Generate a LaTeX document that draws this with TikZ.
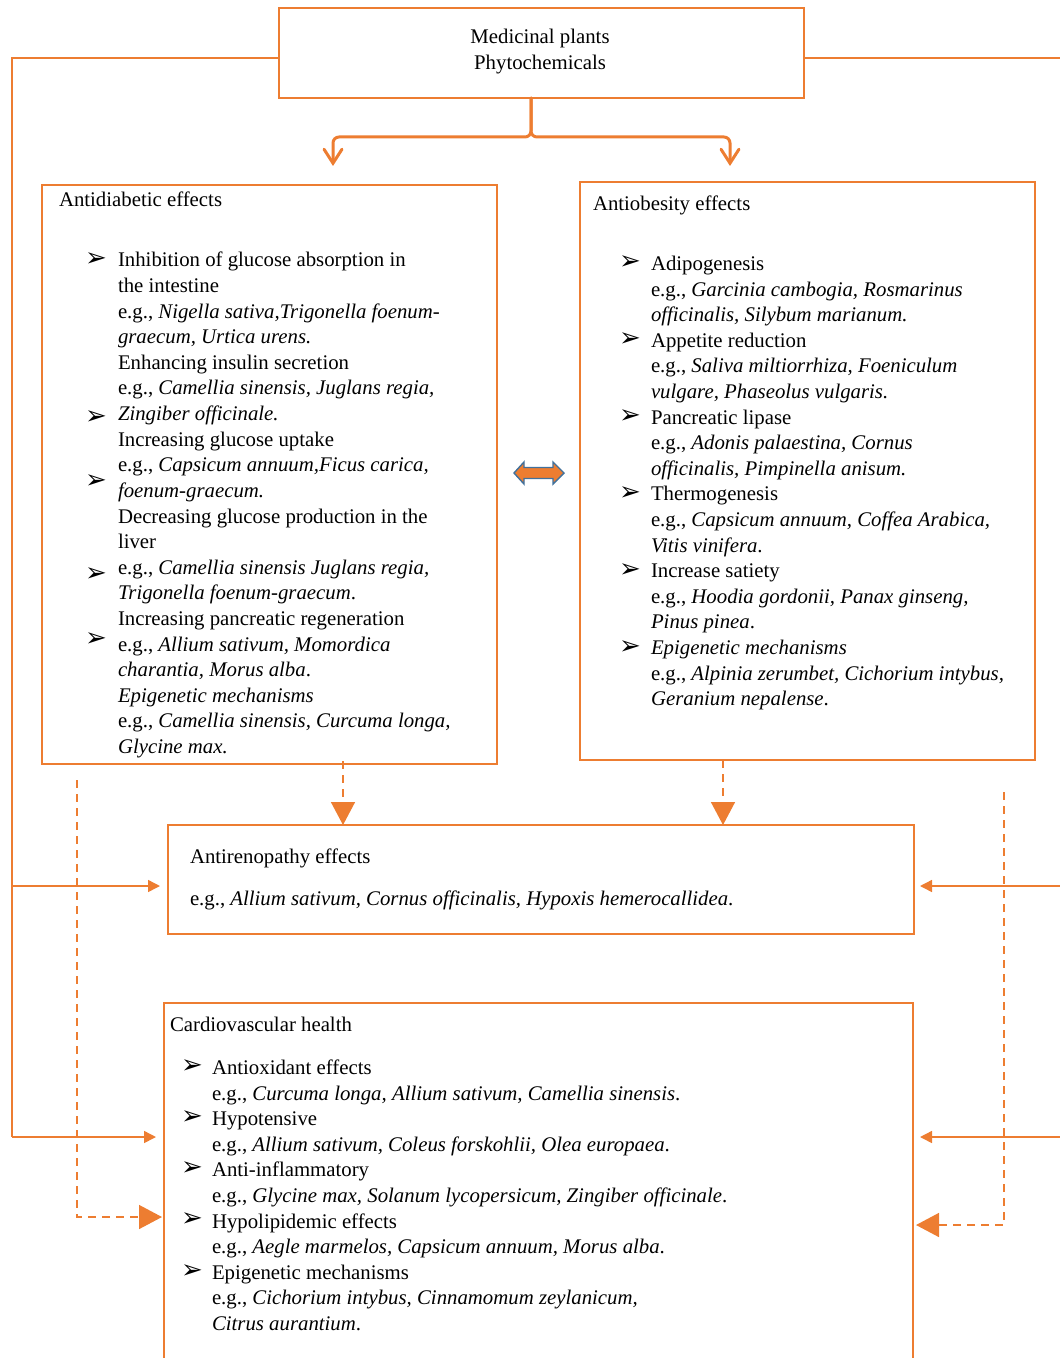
\documentclass[tikz,border=0pt]{standalone}
\usepackage{fontspec}
\setmainfont{Liberation Serif}
\newfontfamily\dejavu{DejaVu Sans}
\usetikzlibrary{arrows.meta,fit}
\definecolor{org}{RGB}{237,125,49}
\definecolor{blu}{RGB}{65,113,156}
\newcommand\txtblk[2]{\begin{minipage}[t]{#1}\fontsize{10.4}{12.8}\selectfont\raggedright #2\end{minipage}}
\begin{document}
\begin{tikzpicture}[x=0.5pt,y=-0.5pt,
  box/.style={draw=org,line width=0.7pt,inner sep=0pt,outer sep=0pt},
  txt/.style={anchor=base west,inner sep=0pt,outer sep=0pt},
  bul/.style={inner sep=0pt,outer sep=0pt,font=\dejavu\fontsize{13}{13}\selectfont},
  ln/.style={draw=org,line width=0.75pt},
  dsh/.style={draw=org,line width=0.75pt,dash pattern=on 4pt off 3pt},
  smalltip/.style={-{Triangle[length=6pt,width=6pt]}},
  bigtip/.style={-{Triangle[length=11.5pt,width=12pt]}},
  bracearrow/.style={draw=org,line width=1.5pt,rounded corners=3pt,line cap=round,
    -{Straight Barb[length=7pt,width=9pt,line cap=round]}}]
\useasboundingbox (0,0) rectangle (1059,1358);

% boxes
\node[box,fit={(279,8) (804,98)}] (top) {};
\node[box,fit={(42,185) (497,764)}] (diab) {};
\node[box,fit={(580,182) (1035,760)}] (obes) {};
\node[box,fit={(168,825) (914,934)}] (renal) {};
\node[box,fit={(164,1003) (913,1380)}] (cardio) {};

% top text
\node[anchor=base,inner sep=0pt] (toptext) at (540,44)
  {\begin{minipage}[t]{200pt}\centering\fontsize{10.4}{12.8}\selectfont Medicinal plants\\Phytochemicals\end{minipage}};

% antidiabetic
\node[txt] (diabtitle) at (59,207) {\txtblk{200pt}{Antidiabetic effects}};
\node[txt] (diabtext) at (118,267) {\txtblk{220pt}{%
Inhibition of glucose absorption in\\
the intestine\\
e.g., \textit{Nigella sativa,Trigonella foenum-}\\
\textit{graecum, Urtica urens.}\\
Enhancing insulin secretion\\
e.g., \textit{Camellia sinensis, Juglans regia,}\\
\textit{Zingiber officinale.}\\
Increasing glucose uptake\\
e.g., \textit{Capsicum annuum,Ficus carica,}\\
\textit{foenum-graecum.}\\
Decreasing glucose production in the\\
liver\\
e.g., \textit{Camellia sinensis Juglans regia,}\\
\textit{Trigonella foenum-graecum}.\\
Increasing pancreatic regeneration\\
e.g., \textit{Allium sativum, Momordica}\\
\textit{charantia, Morus alba}.\\
\textit{Epigenetic mechanisms}\\
e.g., \textit{Camellia sinensis, Curcuma longa,}\\
\textit{Glycine max.}}};
\node[bul] (db1) at (96,260) {➢};
\node[bul] (db2) at (96,418) {➢};
\node[bul] (db3) at (96,482) {➢};
\node[bul] (db4) at (96,575) {➢};
\node[bul] (db5) at (96,640) {➢};

% antiobesity
\node[txt] (obestitle) at (593,211) {\txtblk{200pt}{Antiobesity effects}};
\node[txt] (obestext) at (651,270.5) {\txtblk{220pt}{%
Adipogenesis\\
e.g., \textit{Garcinia cambogia, Rosmarinus}\\
\textit{officinalis, Silybum marianum.}\\
Appetite reduction\\
e.g., \textit{Saliva miltiorrhiza, Foeniculum}\\
\textit{vulgare, Phaseolus vulgaris.}\\
Pancreatic lipase\\
e.g., \textit{Adonis palaestina, Cornus}\\
\textit{officinalis, Pimpinella anisum.}\\
Thermogenesis\\
e.g., \textit{Capsicum annuum, Coffea Arabica,}\\
\textit{Vitis vinifera}.\\
Increase satiety\\
e.g., \textit{Hoodia gordonii, Panax ginseng,}\\
\textit{Pinus pinea}.\\
\textit{Epigenetic mechanisms}\\
e.g., \textit{Alpinia zerumbet, Cichorium intybus,}\\
\textit{Geranium nepalense}.}};
\node[bul] (ob1) at (630,263) {➢};
\node[bul] (ob2) at (630,340) {➢};
\node[bul] (ob3) at (630,417) {➢};
\node[bul] (ob4) at (630,494) {➢};
\node[bul] (ob5) at (630,571) {➢};
\node[bul] (ob6) at (630,648) {➢};

% antirenopathy
\node[txt] (renaltext) at (190,863) {\begin{minipage}[t]{340pt}\fontsize{10.4}{21}\selectfont\raggedright
Antirenopathy effects\\
e.g., \textit{Allium sativum, Cornus officinalis, Hypoxis hemerocallidea}.\end{minipage}};

% cardiovascular
\node[txt] (cardtitle) at (170,1031) {\txtblk{200pt}{Cardiovascular health}};
\node[txt] (cardtext) at (212,1074.5) {\txtblk{330pt}{%
Antioxidant effects\\
e.g., \textit{Curcuma longa, Allium sativum, Camellia sinensis}.\\
Hypotensive\\
e.g., \textit{Allium sativum, Coleus forskohlii, Olea europaea}.\\
Anti-inflammatory\\
e.g., \textit{Glycine max, Solanum lycopersicum, Zingiber officinale}.\\
Hypolipidemic effects\\
e.g., \textit{Aegle marmelos, Capsicum annuum, Morus alba}.\\
Epigenetic mechanisms\\
e.g., \textit{Cichorium intybus, Cinnamomum zeylanicum,}\\
\textit{Citrus aurantium}.}};
\node[bul] (cb1) at (192,1067) {➢};
\node[bul] (cb2) at (192,1118) {➢};
\node[bul] (cb3) at (192,1169) {➢};
\node[bul] (cb4) at (192,1220) {➢};
\node[bul] (cb5) at (192,1272) {➢};

% brace arrows
\coordinate (bc) at (531,98);
\coordinate (bm) at (531,137);
\coordinate (bl) at (333,166);
\coordinate (br) at (730,166);
\draw[bracearrow] (bc) -- (bm) -| (bl);
\draw[bracearrow] (bc) -- (bm) -| (br);

% double arrow between boxes
\draw[draw=blu,fill=org,line width=0.7pt,line join=miter]
  (514,473) -- (524,462) -- (524,467.5) -- (553,467.5) -- (553,462) -- (564,473)
  -- (553,484) -- (553,478.5) -- (524,478.5) -- (524,484) -- cycle;

% side solid lines
\coordinate (Lt) at (12,58);
\coordinate (Lm) at (12,886);
\coordinate (Lb) at (12,1137);
\coordinate (Rt) at (1070,58);
\coordinate (Rm) at (1070,886);
\coordinate (Rb) at (1070,1137);
\draw[ln] (top.west |- Lt) -- (Lt) -- (Lb);
\draw[ln] (top.east |- Rt) -- (Rt);
\draw[ln,smalltip,shorten >=4pt] (Lm) -- (renal.west |- Lm);
\draw[ln,smalltip,shorten >=4pt] (Lb) -- (cardio.west |- Lb);
\draw[ln,smalltip,shorten >=3pt] (Rm) -- (renal.east |- Rm);
\draw[ln,smalltip,shorten >=3.5pt] (Rb) -- (cardio.east |- Rb);

% dashed arrows
\coordinate (d1) at (343,761);
\coordinate (d2) at (723,760);
\draw[dsh,bigtip] (d1) -- (d1 |- renal.north);
\draw[dsh,bigtip] (d2) -- (d2 |- renal.north);
\coordinate (dl) at (77,780);
\coordinate (dlh) at (162,1217);
\coordinate (dr) at (1004,792);
\coordinate (drh) at (916,1225);
\draw[dsh,bigtip] (dl) |- (dlh);
\draw[dsh,bigtip] (dr) |- (drh);
\end{tikzpicture}
\end{document}
